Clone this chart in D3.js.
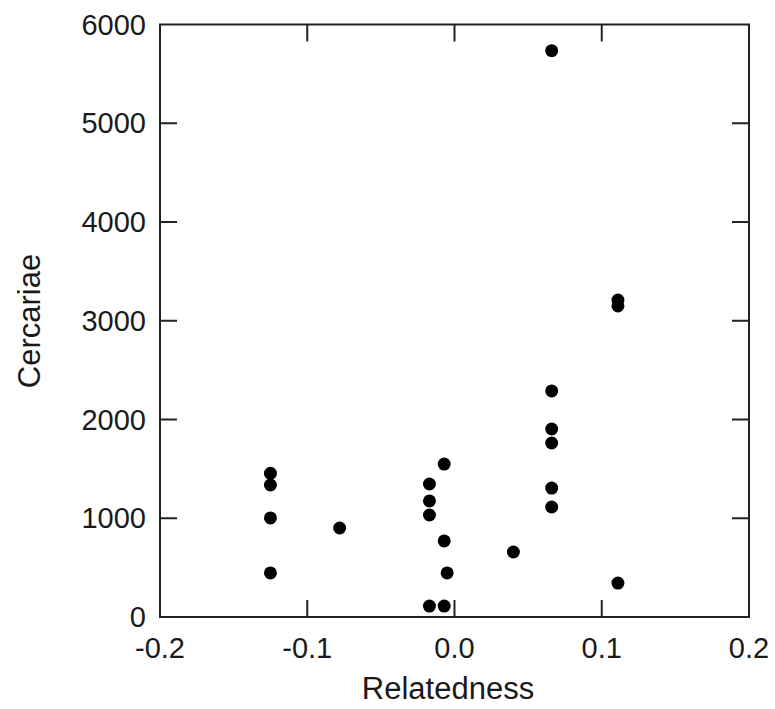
<!DOCTYPE html>
<html>
<head>
<meta charset="utf-8">
<script src="https://cdn.jsdelivr.net/npm/d3@7"></script>
<style>
	body { margin: 0; background: #fff; }
	text { font-family: "Liberation Sans", Arial, sans-serif; fill: #1a1a1a; }
</style>
</head>
<body>
<svg id="chart" width="775" height="709"></svg>
<script>
// Data
const relatedness = [
	-0.125, -0.125, -0.125, -0.125,
	-0.078,
	-0.017, -0.017, -0.017, -0.017,
	-0.007, -0.007, -0.005, -0.007,
	0.04,
	0.066, 0.066, 0.066, 0.066, 0.066, 0.066,
	0.111, 0.111, 0.111
];
const cercariae = [
	1455, 1337, 1003, 446,
	901,
	1347, 1175, 1033, 111,
	1549, 770, 446, 111,
	658,
	5735, 2289, 1904, 1762, 1306, 1114,
	3210, 3150, 344
];
const xTicks = [-0.2, -0.1, 0.0, 0.1, 0.2];
const yTicks = [0, 1000, 2000, 3000, 4000, 5000, 6000];

const svg = d3.select("#chart");
const plotLeft = 160, plotRight = 749, plotTop = 24.5, plotBottom = 617;
const tickLen = 17;

const x = d3.scaleLinear().domain([-0.2, 0.2]).range([plotLeft, plotRight]);
const y = d3.scaleLinear().domain([0, 6000]).range([plotBottom, plotTop]);

// Frame
svg.append("rect")
	.attr("x", plotLeft).attr("y", plotTop)
	.attr("width", plotRight - plotLeft).attr("height", plotBottom - plotTop)
	.style("fill", "none")
	.style("stroke", "#222")
	.style("stroke-width", 2);

// Inner ticks (both sides)
const innerX = xTicks.slice(1, -1);
const innerY = yTicks.slice(1, -1);

svg.append("g").selectAll("line")
	.data(innerX)
	.join("line")
	.attr("x1", d => x(d)).attr("x2", d => x(d))
	.attr("y1", plotBottom).attr("y2", plotBottom - tickLen)
	.style("stroke", "#222").style("stroke-width", 2);

svg.append("g").selectAll("line")
	.data(innerX)
	.join("line")
	.attr("x1", d => x(d)).attr("x2", d => x(d))
	.attr("y1", plotTop).attr("y2", plotTop + tickLen)
	.style("stroke", "#222").style("stroke-width", 2);

svg.append("g").selectAll("line")
	.data(innerY)
	.join("line")
	.attr("x1", plotLeft).attr("x2", plotLeft + tickLen)
	.attr("y1", d => y(d)).attr("y2", d => y(d))
	.style("stroke", "#222").style("stroke-width", 2);

svg.append("g").selectAll("line")
	.data(innerY)
	.join("line")
	.attr("x1", plotRight).attr("x2", plotRight - tickLen)
	.attr("y1", d => y(d)).attr("y2", d => y(d))
	.style("stroke", "#222").style("stroke-width", 2);

// Tick labels
svg.append("g").selectAll("text")
	.data(xTicks)
	.join("text")
	.attr("x", d => x(d))
	.attr("y", 658)
	.attr("text-anchor", "middle")
	.style("font-size", "29px")
	.text(d => d3.format(".1f")(d).replace("−", "-"));

svg.append("g").selectAll("text")
	.data(yTicks)
	.join("text")
	.attr("x", 146)
	.attr("y", d => y(d) + 10)
	.attr("text-anchor", "end")
	.style("font-size", "29px")
	.text(d => d);

// Axis titles
svg.append("text")
	.attr("x", 448)
	.attr("y", 699)
	.attr("text-anchor", "middle")
	.style("font-size", "31px")
	.text("Relatedness");

svg.append("text")
	.attr("transform", "translate(40, 321) rotate(-90)")
	.attr("text-anchor", "middle")
	.style("font-size", "31px")
	.text("Cercariae");

// Points
svg.append("g").selectAll("circle")
	.data(relatedness.map((r, i) => ({ r: r, c: cercariae[i] })))
	.join("circle")
	.attr("cx", d => x(d.r))
	.attr("cy", d => y(d.c))
	.attr("r", 6.5)
	.style("fill", "#000");
</script>
</body>
</html>
